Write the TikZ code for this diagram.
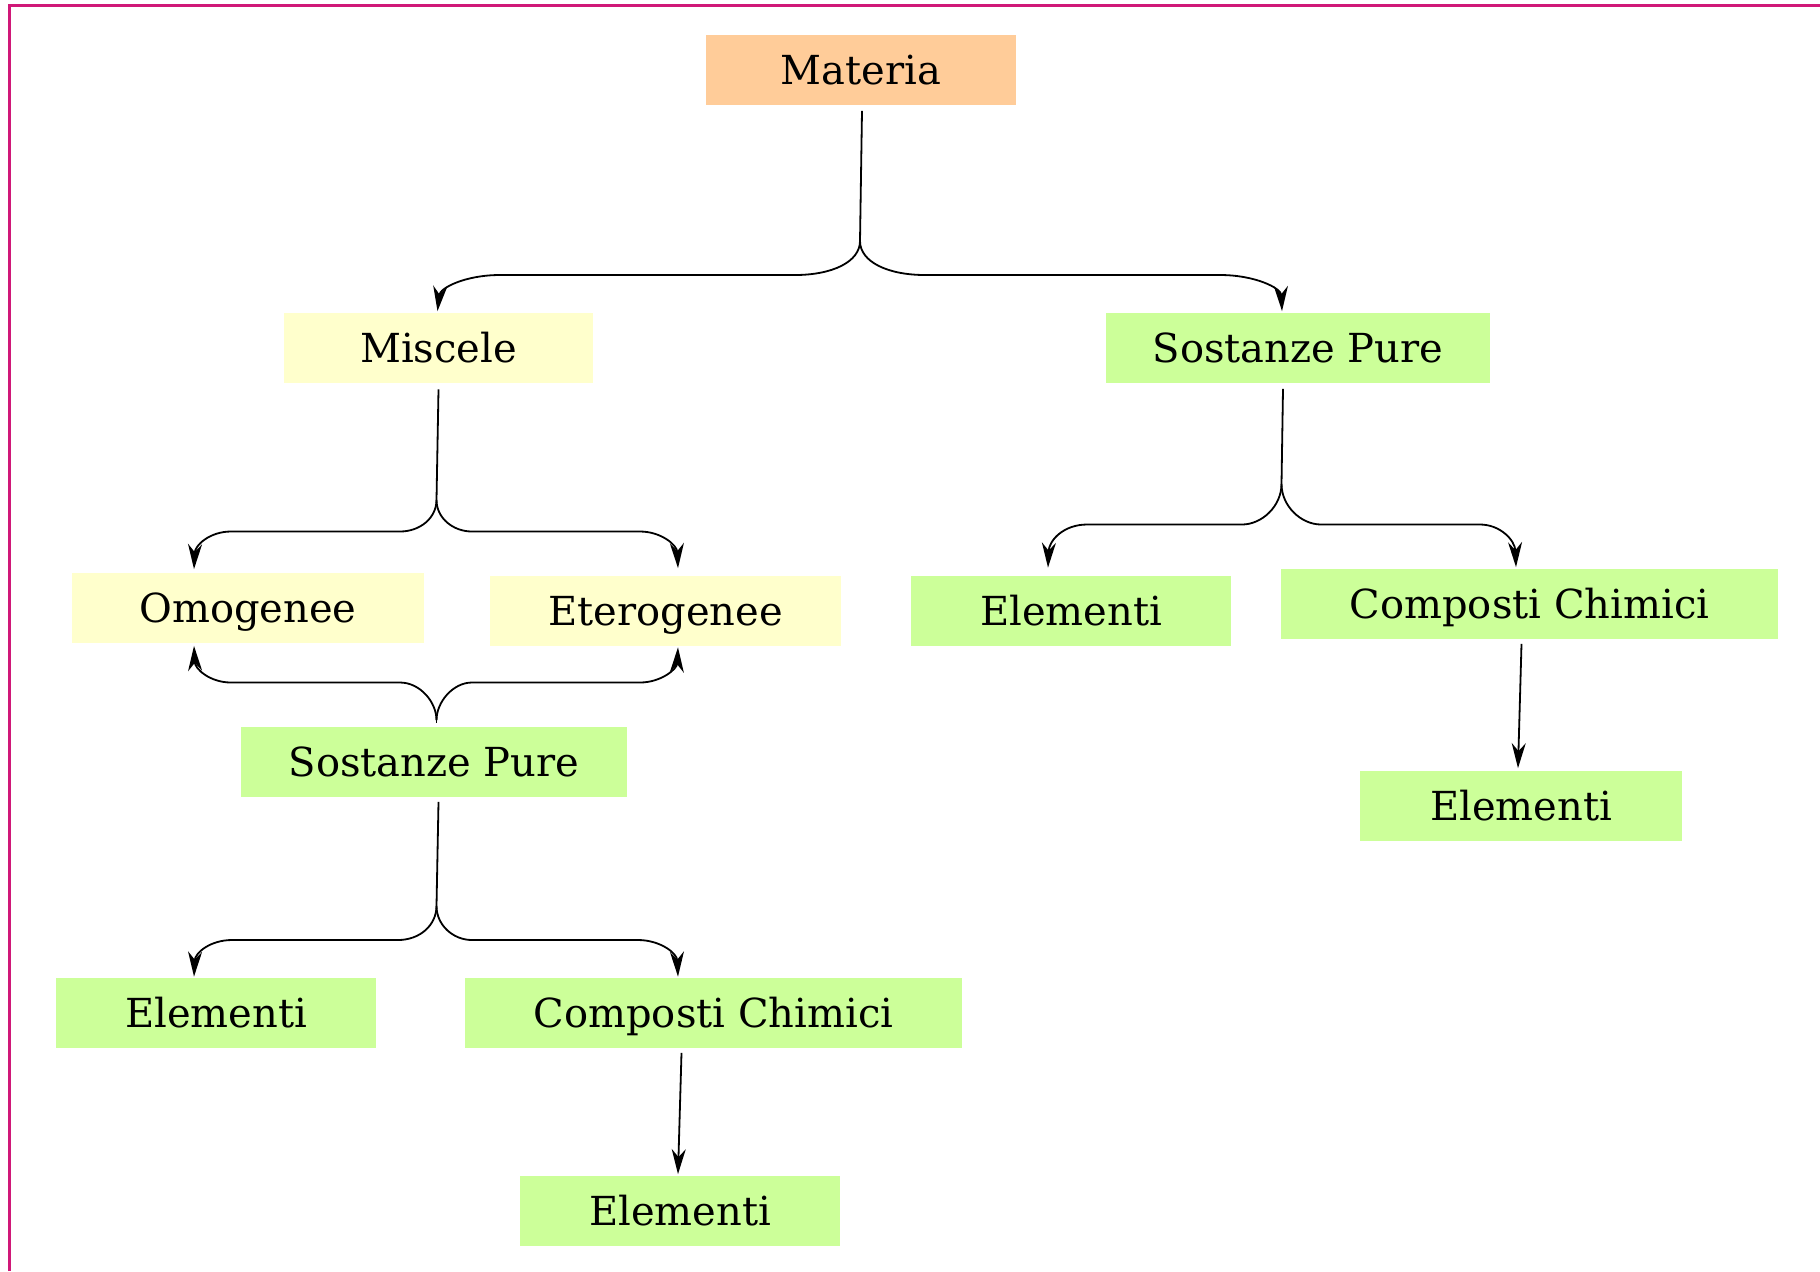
\documentclass[tikz,border=0pt]{standalone}
\usepackage{fontspec}
\setmainfont{DejaVu Serif}
\usetikzlibrary{arrows.meta,calc}
\definecolor{frameC}{RGB}{208,24,120}
\definecolor{orangeC}{RGB}{255,204,153}
\definecolor{yellowC}{RGB}{255,255,204}
\definecolor{greenC}{RGB}{204,255,153}
\tikzset{
  box/.style={rectangle, inner sep=0pt, minimum height=35pt, text height=14.6pt, text depth=0pt, font=\fontsize{20}{24}\selectfont, text=black},
  orangebox/.style={box, fill=orangeC},
  yellowbox/.style={box, fill=yellowC},
  greenbox/.style={box, fill=greenC},
  stem/.style={draw=black, line width=0.9pt},
  conn/.style={draw=black, line width=0.9pt, -{Stealth[length=12.5pt,width=7pt,inset=4pt]}},
}
\begin{document}
\begin{tikzpicture}[x=0.5pt,y=-0.5pt]
\useasboundingbox (0,0) rectangle (1820,1271);
\draw[frameC, line width=1.25pt] (9.3,1271) -- (9.3,5.5) -- (1820,5.5);

% nodes
\node[orangebox, minimum width=155pt] (mat) at (861,69.5) {Materia};
\node[yellowbox, minimum width=154.5pt] (mis) at (438.5,348) {Miscele};
\node[greenbox, minimum width=192pt] (spR) at (1298,348) {Sostanze Pure};
\node[yellowbox, minimum width=176pt] (omo) at (248,607.5) {Omogenee};
\node[yellowbox, minimum width=175.5pt] (ete) at (665.5,610.5) {Eterogenee};
\node[greenbox, minimum width=193pt] (spL) at (434,761.5) {Sostanze Pure};
\node[greenbox, minimum width=160pt] (elR) at (1071,610.5) {Elementi};
\node[greenbox, minimum width=248.5pt] (ccR) at (1529.5,603.5) {Composti Chimici};
\node[greenbox, minimum width=161pt] (elR2) at (1521,805.5) {Elementi};
\node[greenbox, minimum width=160pt] (elL) at (216,1013) {Elementi};
\node[greenbox, minimum width=248.5pt] (ccL) at (713.5,1013) {Composti Chimici};
\node[greenbox, minimum width=160pt] (elB) at (680,1210.5) {Elementi};

% Materia -> Miscele, Sostanze Pure
\coordinate (fA) at (860,241);
\draw[stem] ($(mat.south)+(1,6)$) -- (fA);
\draw[conn] (fA) .. controls (860,262) and (832,275) .. (795,275) -- (500,275)
  .. controls (465,275) and (440,288) .. ($(mis.north)+(-1,-1.5)$);
\draw[conn] (fA) .. controls (860,262) and (888,275) .. (925,275) -- (1220,275)
  .. controls (1255,275) and (1281,288) .. ($(spR.north)+(-16,-1.5)$);

% Miscele -> Omogenee, Eterogenee
\coordinate (fB) at (436.5,500);
\draw[stem] ($(mis.south)+(0,6)$) -- (fB);
\draw[conn] (fB) .. controls (436.5,518) and (420,531.5) .. (400,531.5) -- (231,531.5)
  .. controls (210,531.5) and (195,545) .. ($(omo.north)+(-54,-3)$);
\draw[conn] (fB) .. controls (436.5,518) and (453,531.5) .. (472,531.5) -- (640,531.5)
  .. controls (661,531.5) and (677,545) .. ($(ete.north)+(12.5,-7)$);

% Sostanze Pure (left) -> Omogenee, Eterogenee (upwards)
\coordinate (fC) at ($(spL.north)+(2.5,-6)$);
\draw[stem] (fC) -- ($(spL.north)+(2.5,-3)$);
\draw[conn] (fC) .. controls (436.5,702) and (420,682.5) .. (400,682.5) -- (231,682.5)
  .. controls (210,682.5) and (195,669) .. ($(omo.south)+(-54,3)$);
\draw[conn] (fC) .. controls (436.5,702) and (453,682.5) .. (472,682.5) -- (640,682.5)
  .. controls (661,682.5) and (677,669) .. ($(ete.south)+(12.5,1.5)$);

% Sostanze Pure (left) -> Elementi, Composti Chimici
\coordinate (fD) at (436.5,906);
\draw[stem] ($(spL.south)+(4.5,5)$) -- (fD);
\draw[conn] (fD) .. controls (436.5,925) and (420,940) .. (398,940) -- (232,940)
  .. controls (210,940) and (195,953) .. ($(elL.north)+(-22,-1)$);
\draw[conn] (fD) .. controls (436.5,925) and (453,940) .. (472,940) -- (638,940)
  .. controls (660,940) and (677,953) .. ($(ccL.north)+(-35.5,-1)$);

% Sostanze Pure (right) -> Elementi, Composti Chimici
\coordinate (fE) at (1281.5,484);
\draw[stem] ($(spR.south)+(-15,5.5)$) -- (fE);
\draw[conn] (fE) .. controls (1281.5,506) and (1262,524.5) .. (1242,524.5) -- (1087,524.5)
  .. controls (1064,524.5) and (1049,540) .. ($(elR.north)+(-23,-7.5)$);
\draw[conn] (fE) .. controls (1281.5,506) and (1301,524.5) .. (1321,524.5) -- (1480,524.5)
  .. controls (1500,524.5) and (1515,540) .. ($(ccR.north)+(-13.5,-1)$);

% straight arrows
\draw[conn] ($(ccR.south)+(-8,5)$) -- ($(elR2.north)+(-3,-2)$);
\draw[conn] ($(ccL.south)+(-32,4.5)$) -- ($(elB.north)+(-2,-1)$);
\end{tikzpicture}
\end{document}
